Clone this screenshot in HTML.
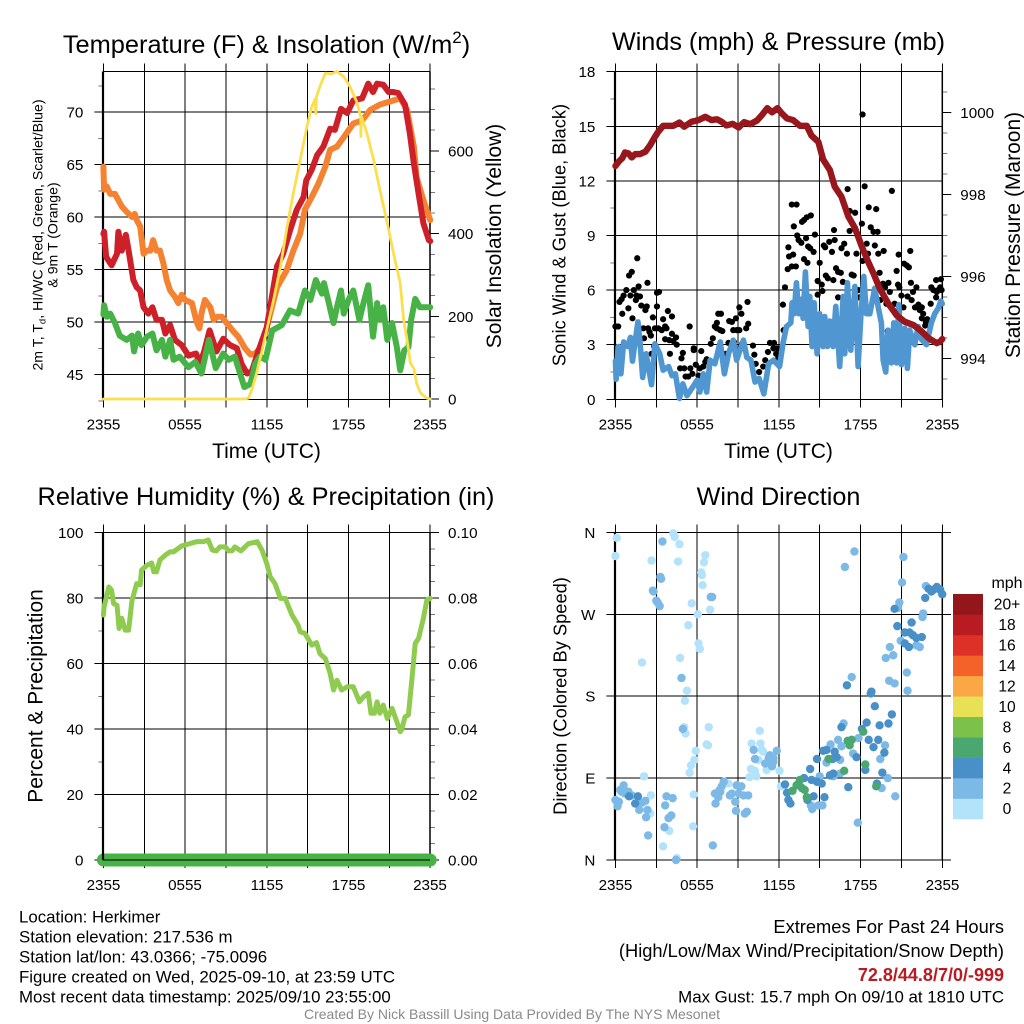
<!DOCTYPE html>
<html lang="en">
<head>
<meta charset="utf-8">
<title>Herkimer Mesonet Meteogram</title>
<style>
html,body{margin:0;padding:0;background:#fff;width:1024px;height:1024px;overflow:hidden}
svg{display:block}
text{font-family:"Liberation Sans",Arial,sans-serif;fill:#000}
</style>
</head>
<body>
<svg id="chart" xmlns="http://www.w3.org/2000/svg" width="1024" height="1024" viewBox="0 0 1024 1024">
<rect x="0" y="0" width="1024" height="1024" fill="#fff"/>
<g id="layer"></g>

<text x="266.5" y="53" font-size="25.4" text-anchor="middle">Temperature (F) &amp; Insolation (W/m<tspan dy="-10" font-size="17">2</tspan><tspan dy="10">)</tspan></text>
<text x="778.5" y="50" font-size="25.2" text-anchor="middle">Winds (mph) &amp; Pressure (mb)</text>
<text x="266" y="505" font-size="25.3" text-anchor="middle">Relative Humidity (%) &amp; Precipitation (in)</text>
<text x="778.5" y="505" font-size="25.2" text-anchor="middle">Wind Direction</text>

<text x="266.5" y="458" font-size="21" text-anchor="middle">Time (UTC)</text>
<text x="778.5" y="458" font-size="21" text-anchor="middle">Time (UTC)</text>

<text transform="translate(42.5,235) rotate(-90)" font-size="14.1" text-anchor="middle">2m T, T<tspan dy="3" font-size="9.5">d</tspan><tspan dy="-3">, HI/WC (Red, Green, Scarlet/Blue)</tspan></text>
<text transform="translate(57.5,235) rotate(-90)" font-size="14.1" text-anchor="middle">&amp; 9m T (Orange)</text>
<text transform="translate(501,236) rotate(-90)" font-size="21" text-anchor="middle">Solar Insolation (Yellow)</text>
<text transform="translate(565.7,235) rotate(-90)" font-size="18.3" text-anchor="middle">Sonic Wind &amp; Gust (Blue, Black)</text>
<text transform="translate(1020,235) rotate(-90)" font-size="21" text-anchor="middle">Station Pressure (Maroon)</text>
<text transform="translate(42.5,696) rotate(-90)" font-size="21" text-anchor="middle">Percent &amp; Precipitation</text>
<text transform="translate(566.5,696) rotate(-90)" font-size="18.3" text-anchor="middle">Direction (Colored By Speed)</text>

<text x="1007" y="588" font-size="16" text-anchor="middle">mph</text>

<g font-size="16.85">
<text x="19" y="922.5">Location: Herkimer</text>
<text x="19" y="942.5">Station elevation: 217.536 m</text>
<text x="19" y="962.5">Station lat/lon: 43.0366; -75.0096</text>
<text x="19" y="982.5">Figure created on Wed, 2025-09-10, at 23:59 UTC</text>
<text x="19" y="1002.5">Most recent data timestamp: 2025/09/10 23:55:00</text>
</g>
<g font-size="16.85" text-anchor="end">
<text x="1004" y="933" font-size="18.3">Extremes For Past 24 Hours</text>
<text x="1004" y="957" font-size="18.3">(High/Low/Max Wind/Precipitation/Snow Depth)</text>
<text x="1004" y="981" font-size="18" font-weight="bold" style="fill:#b81b22">72.8/44.8/7/0/-999</text>
<text x="1004" y="1002.5">Max Gust: 15.7 mph On 09/10 at 1810 UTC</text>
</g>
<text x="512" y="1019" font-size="14" text-anchor="middle" style="fill:#8a8a8a">Created By Nick Bassill Using Data Provided By The NYS Mesonet</text>
</svg>

<script>
// ---- time axis ----
const timeTickHours = [0,3,6,9,12,15,18,21,24];
const timeTickLabels = ['2355','','0555','','1155','','1755','','2355'];

// ---- panel 1: temperature (F) & insolation ----
const tempTicks = [45,50,55,60,65,70];
const tempMinorTicks = [42.5,47.5,52.5,57.5,62.5,67.5,72.5];
const insolationTicks = [0,200,400,600];
const insolationMinorTicks = [50,100,150,250,300,350,450,500,550,650,700,750];

const orangeHours = [0,0.05,0.25,0.5,0.85,1.1,1.35,1.7,2.1,2.3,2.45,2.7,2.95,3.2,3.45,3.65,3.9,4.15,4.4,4.65,4.9,5.25,5.5,5.75,6,6.5,6.85,7.05,7.2,7.45,7.85,8.1,8.35,8.7,9.05,9.55,9.9,10.4,10.8,11.15,11.5,12,12.75,13.45,13.95,14.45,14.8,15.3,15.8,16.3,16.65,17.15,17.65,18.35,19,19.6,20.3,21.05,21.8,22.3,22.8,23,23.5,24];
const orangeTemps = [64.8,62.6,62.9,62.2,62.2,61.6,61,60.5,60,60.3,59.7,59.1,56.5,56.8,56.8,57.8,56.8,56.8,55.6,54,53,52.4,51.8,52.6,52.1,51.8,50,49.4,50.8,52.1,51.4,50.2,50.5,50.5,49.9,49.1,48.6,47.5,46.9,47,47.5,49.5,53.3,54.9,56.8,58.4,60.7,61.9,63.2,64.8,66.4,66.7,67.6,68.9,69.2,70.2,70.7,71,71.3,70.2,66.7,63.8,61.6,59.7];

const redHours = [0,0.05,0.2,0.6,1,1.1,1.35,1.65,1.85,2.2,2.45,2.7,2.95,3.3,3.6,3.9,4.3,4.55,4.9,5.25,5.75,6.25,6.8,7.1,7.4,7.8,8.3,8.8,9.3,9.8,10.15,10.55,10.9,11.4,12,12.75,13.2,13.7,14.2,14.7,14.9,15.3,15.7,16.15,16.65,17,17.45,17.9,18.35,19,19.45,19.8,20.1,20.55,20.95,21.3,21.65,22.15,22.5,22.8,23.15,23.5,23.9,24];
const redTemps = [58.4,58.6,56.2,55.4,56.5,58.6,56.8,58.3,56.8,54,53.3,53,51.4,50.8,51.4,50.2,50.2,48.9,49.7,48.3,47.8,46.8,47,46,47.2,49.2,47.2,48.4,47.8,47.5,46,45.1,45.3,47.3,49.5,55.3,56.5,58.7,60.7,61.9,63.5,64.5,65.9,66.7,68.4,68.3,70.3,69.9,71.1,71.3,72.7,71.9,72.7,72.6,71.9,71.9,71.8,70.7,68,65.1,62.2,59.4,57.8,57.7];

const greenHours = [0,0.05,0.25,0.5,0.85,1.2,1.7,2.1,2.25,2.55,2.8,3.2,3.6,3.9,4.3,4.55,4.9,5.15,5.6,6.25,6.75,7.2,7.75,8.25,8.8,9.2,9.65,10.35,10.8,11.15,11.5,11.9,12.4,13.1,13.7,14.3,14.8,15.2,15.6,16.05,16.2,16.5,16.9,17.15,17.45,17.65,18,18.35,18.8,19.1,19.45,19.8,20.1,20.3,20.55,20.85,21.2,21.55,21.8,22.1,22.4,22.6,22.9,23.25,23.6,24];
const greenTemps = [50.7,51.6,50.5,50.8,49.9,48.7,48.3,48.7,47.2,48.9,47.8,48.6,48.9,47.3,48.3,46.7,48.3,46.4,46.7,45.7,46.2,45.1,48.3,45.6,47,46.4,46.7,43.8,44.1,46,46.7,46.4,49.2,49.7,51.1,50.8,53,52.1,54,52.7,53.7,52.1,49.9,51.4,53,50.8,52.1,53,50.2,51.8,53.5,48.6,51.8,50.2,51.4,48.3,49.9,47.6,45.4,47.3,47.6,50.2,52.2,51.4,51.4,51.4];

const solarHours = [0,10.4,10.65,10.9,11.25,11.6,12,12.5,13,13.45,13.95,14.45,14.95,15.3,15.55,15.6,15.65,15.9,16.3,16.7,17.15,17.65,18.1,18.6,18.9,18.91,18.95,19.35,19.85,20.3,20.8,21.3,21.8,22.05,22.3,22.55,22.8,23,23.3,23.75,24];
const solarWatts = [0,0,2,22,62,110,167,240,320,409,498,578,659,707,725,690,731,756,788,786,792,780,756,719,683,635,683,643,578,506,433,353,280,191,143,86,74,38,14,2,0];

// ---- panel 2: winds (mph) & pressure (mb) ----
const windTicks = [0,3,6,9,12,15,18];
const windMinorTicks = [1.5,4.5,7.5,10.5,13.5,16.5];
const pressureTicks = [994,996,998,1000];
const pressureMinorTicks = [993.5,994.5,995,995.5,996.5,997,997.5,998.5,999,999.5,1000.5];

const windHours = [0,0.05,0.2,0.4,0.6,0.9,1.1,1.25,1.45,1.65,1.8,2,2.25,2.65,2.9,3.25,3.5,3.9,4.15,4.4,4.7,4.95,5.25,5.7,6,6.2,6.45,6.7,6.95,7.3,7.7,8,8.3,8.65,8.9,9.4,9.65,9.95,10.25,10.55,10.9,11.25,11.6,12.05,12.31,12.56,12.88,12.97,13.12,13.29,13.46,13.66,13.78,13.95,14.15,14.27,14.44,14.59,14.81,15,15.25,15.37,15.57,15.74,15.98,16.18,16.47,16.72,16.84,17.04,17.28,17.58,17.82,18.02,18.24,18.43,18.68,19.04,19.34,19.53,19.66,19.85,20.02,20.27,20.44,20.64,20.81,21,21.25,21.44,21.61,21.98,22.23,22.47,22.84,23.2,23.45,23.7,23.9,24];
const windSpeeds = [2.1,1.1,2.9,1.4,3.15,2.9,3.4,2.1,3.2,4.25,3.2,1.2,2.5,0.8,3.05,2.5,1.6,1.8,1.3,1.4,0.05,0.85,0.2,0.7,1.05,0.4,1.4,0.4,2.15,1.95,3.15,1.4,2.5,3.25,2.15,3.25,2.3,2.15,0.95,1.15,0.3,1.95,2.15,1.8,3.1,4,4.2,5.3,4.7,6.4,4.7,5.5,4.45,7,4,5.65,2.9,5.3,2.5,4.7,2.9,4.55,2.9,4.3,2.9,5.1,1.8,5.65,2.5,6.4,2.7,6.2,1.8,4.55,6.75,4.7,4.7,6.1,4.9,4.2,2.15,1.5,3.8,2,4.2,2,5.2,1.9,3.9,1.7,3.8,3,4,3.3,3,4.2,4.7,5,5.4,5.25];

const pressureHours = [0,0.25,0.5,0.7,0.95,1.2,1.45,1.8,2.2,2.55,2.9,3.15,3.5,3.9,4.25,4.7,5.05,5.6,6.1,6.6,7.05,7.45,7.8,8.15,8.6,9.05,9.45,9.9,10.4,10.75,11.15,11.5,11.9,12.2,12.6,13.05,13.55,14.05,14.4,14.9,15.25,15.75,16.1,16.6,17.1,17.6,18.1,18.55,18.95,19.4,20.05,20.65,21.25,21.9,22.5,23,23.6,23.85,24];
const pressureValues = [998.69,998.8,998.88,999.02,999,998.9,998.98,998.98,999.04,999.2,999.4,999.53,999.67,999.67,999.67,999.75,999.65,999.77,999.81,999.89,999.81,999.83,999.77,999.68,999.72,999.63,999.76,999.71,999.8,999.93,1000.1,1000,1000.1,999.98,999.85,999.81,999.67,999.67,999.43,999.28,998.85,998.59,998.19,997.94,997.46,997.17,996.72,996.36,996.07,995.71,995.33,995.05,994.89,994.81,994.65,994.49,994.37,994.41,994.47];

const gustHours = [0,0.2,0.3,0.45,0.6,0.8,0.5,0.95,1,1.2,1.1,1.35,1.25,1.7,1.6,1.55,1.8,1.5,1.9,2.3,2.2,2.35,2.05,2.4,2.1,2.5,2.6,2.65,2.75,2.85,2.9,3.05,3.05,3.2,3.15,3.4,3.5,3.65,3.75,3.65,3.85,3.95,4.15,4.15,4,4.25,4.45,4.5,4.85,4.95,4.75,5.05,5.15,5.45,5.35,5.5,5.65,5.75,5.75,5.9,6.1,6.2,6.3,6.45,6.6,6.7,6.6,7,7.15,7.3,7.45,7.55,7.75,7.45,7.7,7.85,8.1,8.3,8.35,8.55,8.7,8.65,8.9,9.1,8.85,9.1,9.25,9.7,9.3,9.6,9.75,10.1,10.2,10.3,10.55,10.85,11,11.2,11.35,11.65,11.6,11.9,11.8,11.95,12.3,12.35,12.45,12.7,12.75,13.05,12.65,12.95,13.25,12.95,13.3,13.1,13.35,13.7,13.85,14.05,14.35,13.45,13.65,14,14.15,14.3,14.55,14.65,13.85,14.1,15,14.85,15.15,14.85,15.2,15.3,15.4,15.7,15.9,16.1,16.05,15.45,15.6,16,16.2,16.35,16.55,16.6,16.8,17,16.7,16.35,17.05,17.2,17.2,17.6,17.35,17.5,17.7,18.1,18.15,18.3,17.85,17.9,18.45,18.55,18.15,18.6,19.15,18.75,18.95,19.25,19.05,19.3,19.7,19.4,19.65,20.05,19.8,20.15,19.45,19.9,20.15,20.5,20.3,20,20.8,20.65,20.75,20.85,21.2,21.4,21.55,21.65,21.7,21,21.45,21.15,21.75,21.85,22.1,22,22.25,22.5,22.35,22.6,22.5,22.8,22.75,22.9,23.15,23.2,23.35,23.55,23.6,23.55,23.85,23.9,23.95,23.7];
const gustSpeeds = [4,4,5.35,5.5,5.7,6,4.7,5,6.8,7,5.7,6,4.45,6.2,7.75,5.7,5.65,5.45,5.15,5.1,4.9,6.4,3.9,3.9,3.35,3.7,3.5,2.5,4.5,2.9,3.9,5.1,5.85,5.9,3.9,3.8,4.4,4,3.9,3.3,4.85,3.25,4.55,3.6,2.5,3.2,3.4,3,2.25,2.55,1.7,1.7,1.25,4,1.25,1.7,1.4,2.8,2.7,1.9,1.3,1.7,2.65,1.8,2.05,2.2,1.25,3.05,3.35,4,4.2,4.7,4.7,3.9,3.8,3.75,2.5,3.1,4.3,4.25,3.15,3.8,3.8,3.8,4.45,5.05,4.7,5.35,3.05,3.9,4.15,2.95,2.45,1.95,1.5,1.8,2.15,2.6,3.1,3.1,2.8,2.8,2.5,2.25,5.2,3.8,6.15,8.35,7.85,7.95,7.15,7.3,7.3,10.7,10.7,9.5,9,9.75,9.85,10,10.1,8.75,8.6,8.85,8.4,8.3,8.1,9.05,7.7,7.5,7.5,6.5,6.3,5.75,5.95,8.45,8.35,8.65,8.1,8.75,9.3,6.8,6.65,6.55,7.2,7,6.95,8.3,8.55,8,6.45,5.6,11.55,10.35,9.25,10.25,6.85,6.8,8,9.65,15.65,11.7,6,5.6,8.55,8,7.6,10.55,10.45,9.45,9.2,9.2,8.45,8,8.15,6.95,6.35,6.4,6.15,5.9,5.45,5.25,5.15,5.25,11.45,3.75,7.95,7.05,6.3,6.15,7.45,7.35,7.25,8.15,6.4,5.7,5.65,5.05,5.45,5.9,6.15,5.05,5.2,5.05,4.9,4.7,4.45,4.25,4.05,4.4,5.25,6.15,6,6.55,5.9,5.6,6.15,6.6,6,6];

// ---- panel 3: relative humidity & precipitation ----
const humidityTicks = [0,20,40,60,80,100];
const humidityMinorTicks = [10,30,50,70,90];
const precipTicks = [0,0.02,0.04,0.06,0.08,0.1];
const precipTickLabels = ['0.00','0.02','0.04','0.06','0.08','0.10'];
const precipMinorTicks = [0.005,0.01,0.015,0.025,0.03,0.035,0.045,0.05,0.055,0.065,0.07,0.075,0.085,0.09,0.095];

const humidityHours = [0,0.05,0.4,0.6,0.75,1,1.15,1.35,1.6,1.85,2.1,2.45,2.7,2.8,3.2,3.55,3.7,3.9,4.15,4.55,4.9,5.15,5.75,6.35,6.85,7.35,7.7,8,8.3,8.55,8.95,9.2,9.45,9.65,10.1,10.65,11.3,11.65,12,12.25,12.6,13,13.35,13.85,14.3,14.45,14.8,15.3,15.65,15.9,16.3,16.65,16.9,17.15,17.5,17.9,18.35,18.8,19.1,19.45,19.65,19.9,20.1,20.3,20.55,20.85,21.2,21.55,21.8,21.9,22.15,22.4,22.65,22.9,23.15,23.5,23.75,24];
const humidityValues = [74.8,77.3,83.4,82.4,78.3,77.8,70.7,73.8,70.2,70.2,79.3,84.4,84,88.5,90,90.7,88,88,91.6,93.1,94.1,94.1,95.9,96.6,97.2,97.2,97.7,94.6,94.4,95.6,95.6,94.4,94.4,95.6,94.4,96.6,97.2,94.6,90.5,86.5,84.4,79.9,79.9,74.8,71.7,69.7,69.2,65.6,66.4,63,61.5,57,51.9,54.9,51.9,52.9,52.9,48.3,49.8,50.9,44.8,44.8,48.3,44.8,47.3,43.2,46.3,42.2,39.2,39.7,43.7,44.3,54.9,66.1,67.7,73.8,79.3,79.9];
const precipHours = [0,24];
const precipValues = [0,0];

// ---- panel 4: wind direction coloured by speed ----
const directionTicks = [0,90,180,270,360];
const directionTickLabels = ['N','E','S','W','N'];
const speedLevels = [0,2,4,6,8,10,12,14,16,18,20];
const speedLevelLabels = ['0','2','4','6','8','10','12','14','16','18','20+'];
const speedColors = ['#b3e3fb','#7cb9e6','#4a90c8','#4aa770','#7cc14a','#e8e055','#f9a845','#f46229','#dd3127','#b81b22','#93161b'];

const dirHours = [0.1,0,2.65,4.25,4.35,4.7,4.6,1.95,6.6,6.5,6.3,6.35,6.4,5.6,6.95,6.05,5.35,6.1,6.2,4.75,5.25,5.1,5.05,5.15,6.85,6.7,6.8,5.9,5.8,5.55,5.45,2.1,2.6,2.55,3.5,4.5,3.95,5.7,5.75,9.85,10.35,10,10.65,10.6,10.75,10.85,10.5,9.95,10.25,11.1,12.05,12.15,8.3,8,
3.45,3.3,3.35,2.75,2.8,3,3.1,3.25,7.1,7,4.85,4.95,10.15,10.25,11,11.25,11.35,11.35,11.6,11.85,11.6,11.5,0.35,0.6,0.45,0.7,0.95,1.2,0.15,0,0.25,1.75,1.95,2.2,2.35,2.25,2.4,3.75,4.2,3.65,3.9,4.1,3.6,4.45,7.15,7.3,7.7,7.35,7.55,7.95,7.8,7.65,8.55,8.4,8.8,8.9,9.25,9.05,9.4,9.75,8.85,9.65,9.5,16.85,21.15,21.05,20.85,22.6,22.55,22.8,20.15,20.4,19.85,20.95,22.1,22.35,21.4,21.45,20.1,20.5,17.35,16.75,15.8,16.35,15.5,14.9,15.2,14.45,14.35,15,16,16.5,16.5,16.6,17.45,17.85,19.8,19.45,20,19.55,20.55,17.8,
17.55,20.75,20.5,22.75,23,23.2,23.6,23.85,24,23.35,20.7,21.75,21.25,21.6,21.85,22.1,22.5,21.25,21.55,17,18.8,18.75,19.05,20.3,20.05,19.4,18.45,16.6,18.1,18.6,19.3,18.95,19.75,17.7,16.1,15.25,15.5,16.25,15.95,14.8,19.6,18.35,17.1,19.2,15.75,16,15.15,14.8,14.4,12.45,12.6,12.7,12.85,14.1,14.55,15.35,1,1.65,1.45,
14.3,13.85,13.55,13.3,13,13.9,13.7,14.05,15.65,16.8,18.35,18.2,17.05,17.35,17.2,19.15,13.45];
const dirDegrees = [354,334,329,359,355,347,328,217,335,327,316,313,302,282,275,270,258,238,232,222,186,175,146,139,146,127,126,120,110,104,96,92,71,51,15,2,32,37,72,91,92,128,128,142,121,119,110,100,98,99,98,81,84,86,
350,311,309,296,295,285,283,279,289,289,200,144,121,111,106,112,115,110,112,120,108,103,77,82,75,73,75,71,59,66,64,55,63,65,55,47,27,70,68,60,46,49,36,0,16,73,75,62,69,86,81,77,73,71,64,82,81,73,71,71,54,53,51,322,333,305,283,271,267,301,234,225,222,241,236,234,206,186,197,194,201,150,127,132,107,60,60,56,60,92,92,95,110,125,117,134,126,111,90,79,70,41,
339,277,276,288,298,295,300,297,292,297,257,261,250,250,247,244,245,238,234,192,185,183,169,160,150,148,151,146,144,132,132,124,118,113,119,120,121,113,111,111,96,99,80,84,93,95,84,86,88,83,74,66,62,66,70,69,70,70,62,
100,90,88,82,76,77,79,69,111,98,105,141,131,132,126,81,84];
const dirSpeeds = [1,1.6,1,1,1,1,1,1,1,1,1,1,1,1,1,1,1,1,1,1,1,1,1,1,1,1,1,1,1,1,1,1,1,1,1,1,1,1,1,1,1,1,1,1,1,1,1,1,1,1,1,1,1,1,
3,3,3,3,3,3,3,3,3,3,3,3,3,3,3,3,3,3,3,3,3,3,3,3,3,3,3,3,3,3,3,3,3,3,3,3,3,3,3,3,3,3,3,3,3,3,3,3,3,3,3,3,3,3,3,3,3,3,3,3,3,3,3,3,3,3,3,3,3,3,3,3,3,3,3,3,3,3,3,3,3,3,3,3,3,3,3,3,3,3,3,3,3,3,3,3,3,3,3,3,3,3,3,3,
5,5,5,5,5,5,5,5,5,5,5,5,5,5,5,5,5,5,5,5,5,5,5,5,5,5,5,5,5,5,5,5,5,5,5,5,5,5,5,5,5,5,5,5,5,5,5,5,5,5,5,5,5,5,5,5,5,5,5,
7,7,7,7,7,7,7,7,7,7,7,7,7,7,7,7,7];

// ---- drawing ----
const NS = 'http://www.w3.org/2000/svg';
const layer = document.getElementById('layer');
const snap = v => Math.round(v * 2) / 2;
function mk(parent, tag, attrs) {
  const el = document.createElementNS(NS, tag);
  for (const k in attrs) el.setAttribute(k, attrs[k]);
  parent.appendChild(el);
  return el;
}
function speedColor(s) {
  let idx = 0;
  for (let i = 0; i < speedLevels.length; i++) if (s >= speedLevels[i]) idx = i;
  return speedColors[idx];
}
function drawLine(parent, name, hours, values, xFn, yFn, color, width) {
  const pts = hours.map((h, i) => xFn(h).toFixed(2) + ',' + yFn(values[i]).toFixed(2)).join(' ');
  const el = mk(parent, 'polyline', {points: pts, fill: 'none', stroke: color, 'stroke-width': width, 'stroke-linejoin': 'round', 'stroke-linecap': 'round'});
  
  
}
function drawFrameGrid(parent, f) {
  const top = f.top, bottom = f.bottom;
  timeTickHours.forEach((h, i) => {
    const x = snap(f.x(h));
    const g = mk(parent, 'line', {x1: x, x2: x, y1: top - 8, y2: bottom + 8, stroke: '#000', 'stroke-width': 1});
    
    
    if (timeTickLabels[i]) {
      const t = mk(parent, 'text', {x: x, y: bottom + 30, 'font-size': 15.2, 'text-anchor': 'middle'});
      t.textContent = timeTickLabels[i];
      
      
    }
  });
  f.leftTicks.forEach((v, i) => {
    const y = snap(f.yLeft(v));
    const g = mk(parent, 'line', {x1: f.left - 9, x2: f.gridRight, y1: y, y2: y, stroke: '#000', 'stroke-width': 1});
    
    
    const t = mk(parent, 'text', {x: f.left - 20, y: y + 5.4, 'font-size': 15.2, 'text-anchor': 'end'});
    t.textContent = f.leftLabels ? f.leftLabels[i] : String(v);
    
    
  });
  (f.leftMinor || []).forEach(v => {
    const y = snap(f.yLeft(v));
    const g = mk(parent, 'line', {x1: f.left - 5, x2: f.left, y1: y, y2: y, stroke: '#777', 'stroke-width': 1});
    
    
  });
  (f.rightTicks || []).forEach((v, i) => {
    const y = snap(f.yRight(v));
    const g = mk(parent, 'line', {x1: f.right, x2: f.right + 9, y1: y, y2: y, stroke: '#000', 'stroke-width': 1});
    
    
    const t = mk(parent, 'text', {x: f.right + 18, y: y + 5.4, 'font-size': 15.2});
    t.textContent = f.rightLabels ? f.rightLabels[i] : String(v);
    
    
  });
  (f.rightMinor || []).forEach(v => {
    const y = snap(f.yRight(v));
    const g = mk(parent, 'line', {x1: f.right, x2: f.right + 5, y1: y, y2: y, stroke: '#777', 'stroke-width': 1});
    
    
  });
}
function drawBorder(parent, f) {
  const lb = mk(parent, 'line', {x1: f.left - 0.4, x2: f.left - 0.4, y1: f.top, y2: f.bottom, stroke: '#000', 'stroke-width': 2.2});
  
  
  const rb = mk(parent, 'line', {x1: f.right, x2: f.right, y1: f.top, y2: f.bottom, stroke: '#000', 'stroke-width': 1.5});
  
  
}

// axis functions
const xLeftCol = h => 103.4 + h * 13.6167;
const xRightCol = h => 615.45 + h * 13.6167;
const yTemp = v => 374.5 - (v - 45) * 10.5;
const ySolar = w => 399 - w * 0.4135;
const yWind = v => 399.3 - v * 18.2;
const yPressure = p => 358.3 - (p - 994) * 41;
const yHumidity = v => 860 - v * 3.275;
const yPrecip = p => 860 - p * 3275;
const yDirection = d => 860 - d * 0.91;

// panel 1
const p1 = mk(layer, 'g', {});


const f1 = {x: xLeftCol, left: 103.4, right: 430, gridRight: 430, top: 71.5, bottom: 399.5, yLeft: yTemp, yRight: ySolar, leftTicks: tempTicks, leftMinor: tempMinorTicks, rightTicks: insolationTicks, rightMinor: insolationMinorTicks};
drawFrameGrid(p1, f1);
const t1 = mk(p1, 'line', {x1: 103, x2: 430, y1: 71.5, y2: 71.5, stroke: '#000', 'stroke-width': 1});


const b1 = mk(p1, 'line', {x1: 103, x2: 430, y1: 399.5, y2: 399.5, stroke: '#000', 'stroke-width': 1});


drawBorder(p1, f1);
drawLine(p1, 'orange-9m-temperature-line', orangeHours, orangeTemps, xLeftCol, yTemp, '#f58230', 6);
drawLine(p1, 'red-2m-temperature-line', redHours, redTemps, xLeftCol, yTemp, '#cd2028', 6);
drawLine(p1, 'green-dewpoint-line', greenHours, greenTemps, xLeftCol, yTemp, '#47b347', 6);
drawLine(p1, 'yellow-insolation-line', solarHours, solarWatts, xLeftCol, ySolar, '#fbdf4f', 2.8);

// panel 2
const p2 = mk(layer, 'g', {});


const f2 = {x: xRightCol, left: 615.4, right: 942.3, gridRight: 942.3, top: 71.5, bottom: 399.5, yLeft: yWind, yRight: yPressure, leftTicks: windTicks, leftMinor: windMinorTicks, rightTicks: pressureTicks, rightMinor: pressureMinorTicks};
drawFrameGrid(p2, f2);
drawBorder(p2, f2);
gustHours.forEach((h, i) => {
  const d = mk(p2, 'circle', {cx: xRightCol(h).toFixed(2), cy: yWind(gustSpeeds[i]).toFixed(2), r: 3.1, fill: '#000'});
  
  
});
drawLine(p2, 'blue-sonic-wind-line', windHours, windSpeeds, xRightCol, yWind, '#5097d1', 5.6);
drawLine(p2, 'maroon-pressure-line', pressureHours, pressureValues, xRightCol, yPressure, '#97171c', 6.4);

// panel 3
const p3 = mk(layer, 'g', {});


const f3 = {x: xLeftCol, left: 103.4, right: 430, gridRight: 430, top: 532.5, bottom: 860, yLeft: yHumidity, yRight: yPrecip, leftTicks: humidityTicks, leftMinor: humidityMinorTicks, rightTicks: precipTicks, rightLabels: precipTickLabels, rightMinor: precipMinorTicks};
drawFrameGrid(p3, f3);
drawBorder(p3, f3);
drawLine(p3, 'humidity-line', humidityHours, humidityValues, xLeftCol, yHumidity, '#8ecb4f', 5);
drawLine(p3, 'precipitation-line', precipHours, precipValues, xLeftCol, yPrecip, '#47b347', 13);
const b3 = mk(p3, 'line', {x1: 103, x2: 430, y1: 860, y2: 860, stroke: '#000', 'stroke-width': 1});


const l3 = mk(p3, 'line', {x1: 103, x2: 103, y1: 853.5, y2: 860, stroke: '#000', 'stroke-width': 2.2});



// panel 4
const p4 = mk(layer, 'g', {});


const f4 = {x: xRightCol, left: 615.4, right: 942.3, gridRight: 951, top: 532.5, bottom: 860, yLeft: yDirection, leftTicks: directionTicks, leftLabels: directionTickLabels};
drawFrameGrid(p4, f4);
drawBorder(p4, f4);
dirHours.forEach((h, i) => {
  const d = mk(p4, 'circle', {cx: xRightCol(h).toFixed(2), cy: yDirection(dirDegrees[i]).toFixed(2), r: 4.2, fill: speedColor(dirSpeeds[i])});
  
  
});

// colorbar
const cb = mk(layer, 'g', {});


const cbTop = 594, cbBoxHeight = 225 / speedLevels.length;
speedLevels.forEach((lvl, i) => {
  const row = speedLevels.length - 1 - i;
  const r = mk(cb, 'rect', {x: 953, y: (cbTop + row * cbBoxHeight).toFixed(2), width: 30, height: (cbBoxHeight + 0.3).toFixed(2), fill: speedColors[i]});
  
  
  const t = mk(cb, 'text', {x: 1007, y: (cbTop + (row + 0.5) * cbBoxHeight + 5.4).toFixed(2), 'font-size': 15.6, 'text-anchor': 'middle'});
  t.textContent = speedLevelLabels[i];
  
  
});
</script>
</body>
</html>
